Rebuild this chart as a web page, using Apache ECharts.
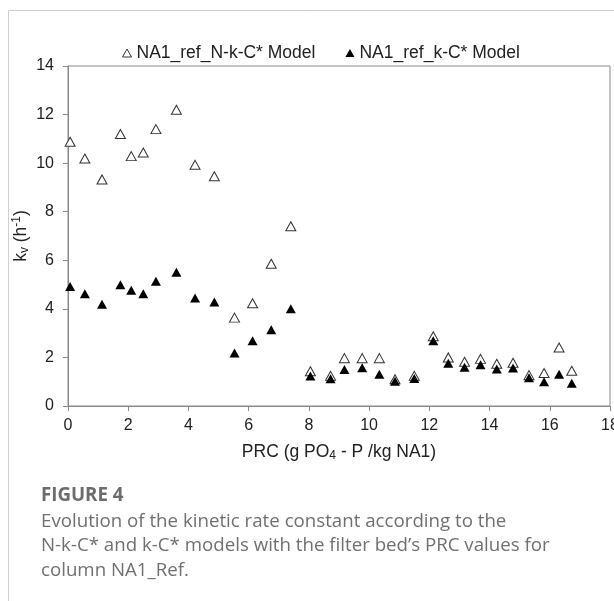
<!DOCTYPE html>
<html>
<head>
<meta charset="utf-8">
<script src="https://cdn.jsdelivr.net/npm/echarts@6/dist/echarts.min.js"></script>
<style>
  html, body { margin: 0; padding: 0; background: #fff; }
  #chart { width: 614px; height: 601px; }
</style>
</head>
<body>
<div id="chart"></div>
<script>
// PRC values (x) and kinetic rate constants (y)
let prc_values = [0.07, 0.56, 1.13, 1.74, 2.1, 2.5, 2.92, 3.6, 4.22, 4.86, 5.53, 6.13, 6.75, 7.4,
    8.05, 8.72, 9.18, 9.77, 10.34, 10.86, 11.5, 12.13, 12.63, 13.17, 13.7, 14.24, 14.78, 15.31, 15.81, 16.31, 16.73];
let kv_n_k_c = [10.88, 10.19, 9.33, 11.2, 10.29, 10.44, 11.4, 12.2, 9.93, 9.46, 3.64, 4.23, 5.86, 7.4,
    1.43, 1.24, 1.97, 1.97, 1.97, 1.1, 1.24, 2.87, 2.0, 1.82, 1.94, 1.74, 1.78, 1.27, 1.36, 2.41, 1.45];
let kv_k_c = [4.92, 4.62, 4.19, 4.99, 4.77, 4.62, 5.14, 5.51, 4.45, 4.28, 2.18, 2.69, 3.14, 4.0,
    1.24, 1.12, 1.5, 1.58, 1.31, 1.02, 1.13, 2.69, 1.76, 1.6, 1.7, 1.52, 1.56, 1.16, 1.0, 1.31, 0.94];
let series_names = ['NA1_ref_N-k-C* Model', 'NA1_ref_k-C* Model'];
let caption_lines = [
    'Evolution of the kinetic rate constant according to the',
    'N-k-C* and k-C* models with the filter bed\u2019s PRC values for',
    'column NA1_Ref.'
];

function to_pairs(xs, ys) {
    let out = [];
    for (let i = 0; i < xs.length; i++) {
        out.push([xs[i], ys[i]]);
    }
    return out;
}

var chartDom = document.getElementById('chart');
var myChart = echarts.init(chartDom);
var font = '"Liberation Sans", Arial, sans-serif';
var axis_color = '#8a8a8a';
var text_color = '#222';

var option = {
    animation: false,
    textStyle: { fontFamily: font },
    legend: {
        top: 39,
        left: 117,
        itemGap: 30,
        itemWidth: 9,
        itemHeight: 8,
        textStyle: { fontSize: 17.5, color: text_color, fontFamily: font },
        data: [
            { name: series_names[0], icon: 'triangle', itemStyle: { color: '#fff', borderColor: '#333', borderWidth: 1 } },
            { name: series_names[1], icon: 'triangle', itemStyle: { color: '#000' } }
        ]
    },
    grid: {
        left: 68,
        right: 4,
        top: 66,
        bottom: 195,
        show: true,
        borderColor: axis_color,
        borderWidth: 1,
        containLabel: false,
        outerBoundsMode: 'none'
    },
    xAxis: {
        type: 'value',
        min: 0,
        max: 18,
        interval: 2,
        name: '{t|PRC (g PO}{s|4}{t| - P /kg NA1)}',
        nameLocation: 'middle',
        nameGap: 36,
        nameMoveOverlap: false,
        nameTextStyle: {
            rich: {
                t: { fontSize: 17.5, color: text_color, fontFamily: font },
                s: { fontSize: 12, color: text_color, fontFamily: font, padding: [8, 0, 0, 0] }
            }
        },
        axisLine: { lineStyle: { color: axis_color } },
        axisTick: { show: true, inside: false, length: 5, lineStyle: { color: axis_color } },
        axisLabel: { fontSize: 16, color: text_color, margin: 12, fontFamily: font },
        splitLine: { show: false }
    },
    yAxis: {
        type: 'value',
        min: 0,
        max: 14,
        interval: 2,
        name: '{t|k}{s|v}{t| (h}{p|-1}{t|)}',
        nameLocation: 'middle',
        nameGap: 37,
        nameRotate: 90,
        nameMoveOverlap: false,
        nameTextStyle: {
            rich: {
                t: { fontSize: 17.5, color: text_color, fontFamily: font },
                s: { fontSize: 12, color: text_color, fontFamily: font, padding: [8, 0, 0, 0] },
                p: { fontSize: 12, color: text_color, fontFamily: font, padding: [0, 0, 8, 0] }
            }
        },
        axisLine: { show: true, lineStyle: { color: axis_color } },
        axisTick: { show: true, inside: false, length: 5, lineStyle: { color: axis_color } },
        axisLabel: { fontSize: 16, color: text_color, margin: 14, fontFamily: font },
        splitLine: { show: false }
    },
    series: [
        {
            name: series_names[0],
            type: 'scatter',
            symbol: 'triangle',
            symbolSize: [10, 9],
            itemStyle: { color: '#fff', borderColor: '#333', borderWidth: 1, opacity: 1 },
            data: to_pairs(prc_values, kv_n_k_c),
            z: 2
        },
        {
            name: series_names[1],
            type: 'scatter',
            symbol: 'triangle',
            symbolSize: [10, 9],
            itemStyle: { color: '#000', opacity: 1 },
            data: to_pairs(prc_values, kv_k_c),
            z: 3
        }
    ],
    graphic: {
        elements: [
            {
                type: 'rect',
                shape: { x: 8.5, y: 10.5, width: 700, height: 700 },
                style: { fill: 'none', stroke: '#d0d0d0', lineWidth: 1 },
                z: -1
            },
            {
                type: 'text',
                left: 41,
                top: 486,
                style: { text: 'FIGURE 4', fontSize: 18.7, fontWeight: 'bold', fill: '#6c6c6c', fontFamily: '"Open Sans", sans-serif' }
            },
            {
                type: 'text',
                left: 41,
                top: 509,
                style: {
                    text: caption_lines.join('\n'),
                    fontSize: 18.7,
                    lineHeight: 24.5,
                    fill: '#707070',
                    fontFamily: '"Open Sans", sans-serif'
                }
            }
        ]
    }
};

myChart.setOption(option);
</script>
</body>
</html>
